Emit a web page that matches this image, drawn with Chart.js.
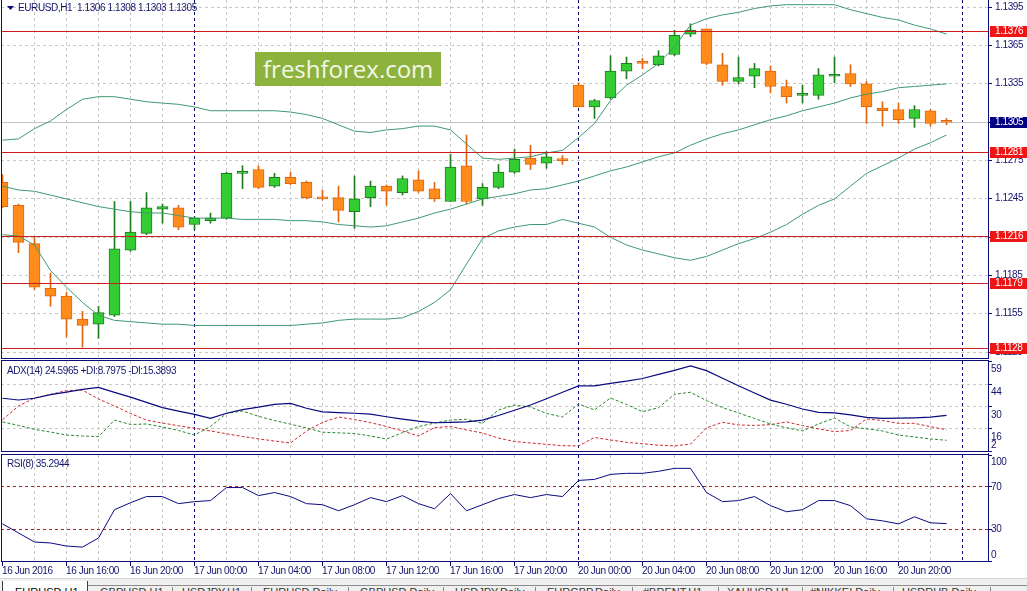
<!DOCTYPE html>
<html>
<head>
<meta charset="utf-8">
<script src="https://cdn.jsdelivr.net/npm/chart.js@4.4.1/dist/chart.umd.min.js"></script>
<style>
  body { margin:0; width:1027px; height:591px; overflow:hidden; position:relative; background:#fff; font-family:'Liberation Sans', Arial, sans-serif; }
  canvas { position:absolute; left:0; }
  #logo { position:absolute; left:255px; top:52px; width:178px; height:34px; padding-left:8px; background:#8db33e; color:#f2f7e8; font:24px 'Open Sans', sans-serif; line-height:34px; white-space:nowrap; }
  #tabs { position:absolute; left:0; top:578px; width:1027px; height:13px; background:#f0f0f0; border-top:1px solid #d4d4d4; overflow:hidden; }
  #tabs .strip { position:absolute; left:87px; right:0; top:6px; border-top:1px solid #8c8c8c; }
  #tabs .active { position:absolute; left:2px; top:2px; width:84px; height:20px; background:#fff; border-left:1px solid #404040; border-right:1px solid #404040; }
  #tabs .sep { position:absolute; top:8px; width:1px; height:10px; background:#8c8c8c; }
  #tabs .lbl { position:absolute; top:7px; font:11px 'Liberation Sans', Arial, sans-serif; line-height:13px; color:#333; white-space:nowrap; }
</style>
</head>
<body>
<canvas id="main" width="1027" height="360" style="top:0"></canvas>
<canvas id="adx" width="1027" height="93" style="top:360px"></canvas>
<canvas id="rsi" width="1027" height="138" style="top:453px"></canvas>
<div id="logo">freshforex.com</div>
<div id="tabs">
  <div class="strip"></div>
  <div class="active"></div>
  <span class="lbl" style="left:15px;color:#000">EURUSD,H1</span>
  <span class="lbl" style="left:100px">GBPUSD,H1</span>
  <span class="lbl" style="left:182px">USDJPY,H1</span>
  <span class="lbl" style="left:263px">EURUSD,Daily</span>
  <span class="lbl" style="left:360px">GBPUSD,Daily</span>
  <span class="lbl" style="left:455px">USDJPY,Daily</span>
  <span class="lbl" style="left:547px">EURGBP,Daily</span>
  <span class="lbl" style="left:643px">#BRENT,H1</span>
  <span class="lbl" style="left:727px">XAUUSD,H1</span>
  <span class="lbl" style="left:810px">#NIKKEI,Daily</span>
  <span class="lbl" style="left:902px">USDRUB,Daily</span>
  <div class="sep" style="left:172px"></div>
  <div class="sep" style="left:251px"></div>
  <div class="sep" style="left:348px"></div>
  <div class="sep" style="left:443px"></div>
  <div class="sep" style="left:535px"></div>
  <div class="sep" style="left:632px"></div>
  <div class="sep" style="left:718px"></div>
  <div class="sep" style="left:802px"></div>
  <div class="sep" style="left:893px"></div>
  <div class="sep" style="left:990px"></div>
</div>
<script>
// EURUSD H1, 16 Jun 12:00 .. 20 Jun 23:00, one value per bar
const timeLabels = ['16 Jun 2016', '16 Jun 16:00', '16 Jun 20:00', '17 Jun 00:00', '17 Jun 04:00', '17 Jun 08:00', '17 Jun 12:00', '17 Jun 16:00', '17 Jun 20:00', '20 Jun 00:00', '20 Jun 04:00', '20 Jun 08:00', '20 Jun 12:00', '20 Jun 16:00', '20 Jun 20:00'];
const labelStep = 4;
const separators = [12, 36, 60]; // day starts

const openP  = [1.1258,1.1240,1.1210,1.1175,1.1169,1.1151,1.1147,1.1154,1.1205,1.1218, 1.1237,1.1238,1.1225,1.1228,1.1230,1.1265,1.1268,1.1255,1.1262,1.1258, 1.1246,1.1246,1.1235,1.1246,1.1255,1.1250,1.1260,1.1253,1.1243,1.1271, 1.1245,1.1254,1.1266,1.1277,1.1273,1.1276,1.1334,1.1317,1.1324,1.1345, 1.1352,1.1350,1.1358,1.1374,1.1378,1.1350,1.1337,1.1341,1.1345,1.1333, 1.1326,1.1326,1.1341,1.1343,1.1335,1.1316,1.1315,1.1308,1.1314,1.1306];
const highP  = [1.1264,1.1241,1.1215,1.1187,1.1172,1.1157,1.1161,1.1243,1.1243,1.1250, 1.1241,1.1240,1.1231,1.1234,1.1266,1.1271,1.1271,1.1265,1.1266,1.1259, 1.1252,1.1255,1.1263,1.1259,1.1256,1.1263,1.1267,1.1258,1.1280,1.1295, 1.1257,1.1272,1.1284,1.1287,1.1282,1.1279,1.1336,1.1323,1.1357,1.1356, 1.1355,1.1361,1.1377,1.1382,1.1378,1.1359,1.1356,1.1351,1.1349,1.1338, 1.1334,1.1347,1.1356,1.1350,1.1337,1.1321,1.1320,1.1318,1.1315,1.1308];
const lowP   = [1.1238,1.1203,1.1174,1.1161,1.1137,1.1129,1.1136,1.1153,1.1204,1.1217, 1.1226,1.1221,1.1221,1.1226,1.1229,1.1253,1.1253,1.1254,1.1256,1.1245, 1.1244,1.1227,1.1222,1.1239,1.1240,1.1248,1.1250,1.1243,1.1243,1.1241, 1.1240,1.1253,1.1265,1.1268,1.1269,1.1272,1.1317,1.1308,1.1323,1.1339, 1.1347,1.1349,1.1357,1.1372,1.1350,1.1334,1.1335,1.1332,1.1328,1.1320, 1.1320,1.1323,1.1336,1.1333,1.1304,1.1302,1.1304,1.1301,1.1302,1.1303];
const closeP = [1.1239,1.1211,1.1176,1.1169,1.1151,1.1146,1.1156,1.1206,1.1219,1.1238, 1.1239,1.1223,1.1230,1.1230,1.1265,1.1266,1.1254,1.1262,1.1257,1.1246, 1.1245,1.1236,1.1245,1.1255,1.1251,1.1261,1.1251,1.1245,1.1270,1.1243, 1.1254,1.1266,1.1276,1.1272,1.1278,1.1275,1.1317,1.1322,1.1345,1.1351, 1.1351,1.1357,1.1373,1.1377,1.1351,1.1337,1.1340,1.1347,1.1333,1.1325, 1.1327,1.1342,1.1342,1.1335,1.1317,1.1314,1.1307,1.1315,1.1304,1.1305];

// Bollinger bands
const bbUpper  = [1.1291,1.1292,1.1300,1.1306,1.1315,1.1323,1.1325,1.1325,1.1323,1.1321, 1.1320,1.1319,1.1317,1.1314,1.1314,1.1314,1.1314,1.1314,1.1313,1.1311, 1.1308,1.1303,1.1298,1.1297,1.1299,1.1300,1.1302,1.1302,1.1299,1.1288, 1.1277,1.1276,1.1277,1.1278,1.1281,1.1283,1.1293,1.1304,1.1322,1.1334, 1.1342,1.1351,1.1364,1.1381,1.1386,1.1389,1.1391,1.1394,1.1396,1.1397, 1.1397,1.1397,1.1397,1.1393,1.1390,1.1387,1.1385,1.1381,1.1378,1.1374];
const bbMiddle = [1.1255,1.1252,1.1251,1.1248,1.1245,1.1242,1.1239,1.1237,1.1235,1.1234, 1.1234,1.1232,1.1230,1.1230,1.1230,1.1229,1.1229,1.1229,1.1228,1.1228, 1.1227,1.1225,1.1224,1.1223,1.1224,1.1227,1.1230,1.1234,1.1237,1.1241, 1.1245,1.1247,1.1249,1.1252,1.1253,1.1256,1.1259,1.1263,1.1267,1.1270, 1.1274,1.1278,1.1281,1.1287,1.1292,1.1296,1.1299,1.1303,1.1307,1.1310, 1.1314,1.1317,1.1320,1.1324,1.1327,1.1329,1.1332,1.1333,1.1334,1.1335];
const bbLower  = [1.1217,1.1216,1.1209,1.1189,1.1176,1.1164,1.1154,1.1150,1.1149,1.1148, 1.1147,1.1147,1.1146,1.1146,1.1146,1.1146,1.1146,1.1146,1.1146,1.1147, 1.1148,1.1150,1.1151,1.1151,1.1151,1.1152,1.1157,1.1164,1.1174,1.1194, 1.1214,1.1220,1.1223,1.1225,1.1225,1.1229,1.1226,1.1223,1.1215,1.1209, 1.1205,1.1202,1.1199,1.1197,1.1200,1.1205,1.1210,1.1214,1.1219,1.1225, 1.1233,1.1240,1.1245,1.1255,1.1265,1.1271,1.1277,1.1284,1.1289,1.1295];

const levels = [1.1376, 1.1281, 1.1216, 1.1179, 1.1128];
const bidPrice = 1.1305;
const priceTicks = [1.1395, 1.1365, 1.1335, 1.1305, 1.1275, 1.1245, 1.1215, 1.1185, 1.1155, 1.1125];

// ADX(14)
const adxMain = [35.4,34.3,35.4,37.7,39.3,41.0,42.3,39.1,36.1,32.8, 29.5,27.3,25.2,22.7,25.9,28.2,29.8,31.5,32.2,29.1, 26.8,26.3,25.9,25.4,23.7,22.2,20.9,19.9,20.1,20.4, 21.6,24.5,27.8,31.1,35.1,39.2,43.2,43.3,44.8,46.2, 47.9,50.5,53.1,55.9,52.9,48.1,43.3,38.7,34.2,31.6, 28.6,26.5,26.1,24.9,23.3,22.7,22.8,23.0,23.4,24.6];
const plusDI  = [20.4,18.2,15.7,14.0,12.1,11.5,11.1,21.6,18.8,19.1, 17.2,15.0,12.1,17.5,25.8,27.3,24.0,21.3,19.0,16.6, 13.9,13.5,13.1,11.5,9.6,13.6,17.5,19.7,21.6,22.1, 19.5,28.0,31.1,29.9,25.8,23.5,31.8,28.0,35.6,31.5, 26.9,29.4,37.9,39.2,33.9,29.5,26.1,22.6,19.1,16.7, 14.7,19.1,22.9,17.2,16.1,14.7,12.1,10.9,9.6,8.8];
const minusDI = [21.8,30.5,35.6,37.8,40.3,40.6,34.9,30.5,25.8,21.6, 19.7,18.0,16.4,14.7,12.9,11.2,9.7,8.3,7.1,14.7, 20.1,23.5,21.9,20.0,17.5,14.7,11.5,16.8,17.6,15.3, 13.4,10.2,8.0,7.1,6.2,5.4,5.2,10.6,9.0,7.5, 6.6,5.7,5.2,6.4,16.6,20.2,18.5,18.2,18.7,20.4, 18.1,16.0,14.3,15.0,22.3,21.3,19.5,19.5,17.4,15.4];
const adxTicks = [59, 44, 30, 16, 2];

// RSI(8)
const rsiValues = [35.0,26.5,17.9,17.0,14.1,13.1,21.7,48.4,55.0,60.8, 60.8,54.1,56.0,57.0,69.3,69.3,61.7,64.6,60.8,54.1, 53.1,47.4,53.1,59.8,56.0,61.7,54.1,49.3,63.6,47.4, 53.1,58.9,62.7,59.8,62.7,60.8,76.0,77.0,81.7,82.7, 82.7,84.6,87.4,87.4,64.6,56.0,57.0,60.8,52.2,46.5, 48.4,57.0,57.0,52.2,39.8,37.9,35.0,41.7,36.0,35.3];
const rsiTicks = [100, 70, 30, 0];
const rsiLevels = [70, 30];

// colours
const navy = '#0c0c78';
const textColor = '#14146c';
const gridColor = '#c8c8c8';
const bandColor = '#3d9a70';
const bullFill = '#33cc33', bullEdge = '#1e7e1e';
const bearFill = '#ff8c1a', bearEdge = '#e2650f';
const levelColor = '#d01c1c', levelBox = '#ee1515';

// x axis: bar k sits at pixel 2.5 + 16k, plot runs from pixel 1 to 988
const xMin = -0.09375, xMax = 61.59375;
const pts = arr => arr.map((v, i) => ({x: i, y: v}));
const xAxis = () => ({type: 'linear', min: xMin, max: xMax, display: false, offset: false});
const snap = p => Math.floor(p) + 0.5;

function line(ctx, x1, y1, x2, y2, color, dash) {
  ctx.save();
  ctx.strokeStyle = color;
  ctx.lineWidth = 1;
  ctx.setLineDash(dash || []);
  ctx.beginPath();
  ctx.moveTo(x1, y1);
  ctx.lineTo(x2, y2);
  ctx.stroke();
  ctx.restore();
}

function text(ctx, s, x, y, color, align) {
  ctx.save();
  ctx.font = '10px "Liberation Sans", Arial, sans-serif';
  if ('letterSpacing' in ctx) ctx.letterSpacing = '-0.4px';
  ctx.fillStyle = color;
  ctx.textAlign = align || 'left';
  ctx.textBaseline = 'middle';
  ctx.fillText(s, x, y);
  ctx.restore();
}

// vertical grid every 2 bars + day separators, shared by all panels
function vGrid(chart) {
  const {ctx, chartArea: a, scales: {x}} = chart;
  for (let k = 2; k <= openP.length; k += 2) {
    if (separators.includes(k)) continue;
    const px = snap(x.getPixelForValue(k));
    if (px < a.right) line(ctx, px, a.top, px, a.bottom, gridColor, [3, 3]);
  }
  separators.forEach(k => {
    const px = snap(x.getPixelForValue(k));
    if (px < a.right) line(ctx, px, a.top, px, a.bottom, navy, [3, 3]);
  });
}

function frame(chart, topRow, bottomRow) {
  const {ctx, chartArea: a} = chart;
  if (topRow !== null) line(ctx, 1, topRow + 0.5, 988, topRow + 0.5, navy);
  line(ctx, 1, bottomRow + 0.5, 988, bottomRow + 0.5, navy);
  line(ctx, 1.5, topRow === null ? 0 : topRow, 1.5, bottomRow + 1, navy);
  line(ctx, 988.5, 0, 988.5, bottomRow + 1, navy);
}

const mainDecor = {
  id: 'mainDecor',
  beforeDatasetsDraw(chart) {
    const {ctx, chartArea: a, scales: {y}} = chart;
    priceTicks.forEach(v => {
      const py = snap(y.getPixelForValue(v));
      if (py > a.top && py < a.bottom) line(ctx, a.left, py, a.right, py, gridColor, [3, 3]);
    });
    vGrid(chart);
    const by = snap(y.getPixelForValue(bidPrice));
    line(ctx, a.left, by, a.right, by, '#c4c4c4');
  },
  afterDatasetsDraw(chart) {
    const {ctx, chartArea: a, scales: {y}} = chart;
    levels.forEach(v => {
      const py = snap(y.getPixelForValue(v));
      line(ctx, a.left, py, a.right, py, levelColor);
    });
  },
  afterDraw(chart) {
    const {ctx, scales: {y}} = chart;
    frame(chart, null, 358);
    priceTicks.forEach(v => {
      const py = snap(y.getPixelForValue(v));
      line(ctx, 988, py, 992, py, navy);
      text(ctx, v.toFixed(4), 995, py, textColor);
    });
    const box = (v, bg) => {
      const py = Math.floor(y.getPixelForValue(v));
      ctx.fillStyle = bg;
      ctx.fillRect(990, py - 5, 37, 11);
      text(ctx, v.toFixed(4), 995, py + 0.5, '#fff');
    };
    levels.forEach(v => box(v, levelBox));
    box(bidPrice, '#000080');
    // title
    const last = openP.length - 1;
    ctx.fillStyle = navy;
    ctx.beginPath();
    ctx.moveTo(7, 6); ctx.lineTo(14, 6); ctx.lineTo(10.5, 10); ctx.closePath();
    ctx.fill();
    text(ctx, 'EURUSD,H1  ' + [openP[last], highP[last], lowP[last], closeP[last]].map(v => v.toFixed(4)).join(' '), 18, 8, textColor);
  }
};

const bull = closeP.map((c, i) => c > openP[i]);

new Chart(document.getElementById('main'), {
  type: 'bar',
  data: {
    datasets: [
      {type: 'line', data: pts(bbUpper), borderColor: bandColor, borderWidth: 1, pointRadius: 0, order: 1},
      {type: 'line', data: pts(bbMiddle), borderColor: bandColor, borderWidth: 1, pointRadius: 0, order: 1},
      {type: 'line', data: pts(bbLower), borderColor: bandColor, borderWidth: 1, pointRadius: 0, order: 1},
      {
        type: 'bar',
        data: openP.map((o, i) => ({x: i, y: [o, closeP[i]]})),
        backgroundColor: bull.map(b => b ? bullFill : bearFill),
        borderColor: bull.map(b => b ? bullEdge : bearEdge),
        borderWidth: 1, borderSkipped: false, barThickness: 11, minBarLength: 2, grouped: false, order: 2
      },
      {
        type: 'bar',
        data: lowP.map((l, i) => ({x: i, y: [l, highP[i]]})),
        backgroundColor: bull.map(b => b ? bullEdge : bearEdge),
        borderWidth: 0, barThickness: 1, grouped: false, order: 3
      }
    ]
  },
  options: {
    responsive: false, animation: false, events: [],
    layout: {padding: {left: 1, right: 39, top: 0, bottom: 2}},
    scales: {
      x: xAxis(),
      y: {type: 'linear', min: 1.112056, max: 1.140064, display: false, beginAtZero: false}
    },
    plugins: {legend: {display: false}, tooltip: {enabled: false}}
  },
  plugins: [mainDecor]
});

// ADX panel
const adxDecor = {
  id: 'adxDecor',
  beforeDatasetsDraw(chart) {
    const {ctx, chartArea: a, scales: {y}} = chart;
    adxTicks.slice(1, -1).forEach(v => {
      const py = snap(y.getPixelForValue(v));
      line(ctx, a.left, py, a.right, py, gridColor, [3, 3]);
    });
    vGrid(chart);
  },
  afterDraw(chart) {
    const {ctx, chartArea: a, scales: {y}} = chart;
    frame(chart, 0, 91);
    adxTicks.forEach(v => {
      const py = y.getPixelForValue(v);
      line(ctx, 988, snap(py), 992, snap(py), navy);
      text(ctx, String(v), 991, Math.min(py + 8, a.bottom - 6), textColor);
    });
    text(ctx, 'ADX(14) 24.5965 +DI:8.7975 -DI:15.3893', 7, 11, textColor);
  }
};

new Chart(document.getElementById('adx'), {
  type: 'line',
  data: {
    datasets: [
      {data: pts(adxMain), borderColor: '#0a0a80', borderWidth: 1.2, pointRadius: 0},
      {data: pts(plusDI), borderColor: '#27872a', borderWidth: 1, borderDash: [3, 2], pointRadius: 0},
      {data: pts(minusDI), borderColor: '#cc2b2b', borderWidth: 1, borderDash: [3, 2], pointRadius: 0}
    ]
  },
  options: {
    responsive: false, animation: false, events: [],
    layout: {padding: {left: 1, right: 39, top: 1, bottom: 2}},
    scales: {x: xAxis(), y: {type: 'linear', min: 2, max: 59, display: false}},
    plugins: {legend: {display: false}, tooltip: {enabled: false}}
  },
  plugins: [adxDecor]
});

// RSI panel + time axis
const rsiDecor = {
  id: 'rsiDecor',
  beforeDatasetsDraw(chart) {
    const {ctx, chartArea: a, scales: {y}} = chart;
    vGrid(chart);
    rsiLevels.forEach(v => {
      const py = snap(y.getPixelForValue(v));
      line(ctx, a.left, py, a.right, py, '#b41e1e', [3, 3]);
    });
  },
  afterDraw(chart) {
    const {ctx, chartArea: a, scales: {x, y}} = chart;
    frame(chart, 1, 108);
    rsiTicks.forEach(v => {
      const py = y.getPixelForValue(v);
      line(ctx, 988, snap(py), 992, snap(py), navy);
      text(ctx, String(v), 991, Math.max(a.top + 7, Math.min(py, a.bottom - 6)), textColor);
    });
    text(ctx, 'RSI(8) 35.2944', 7, 11, textColor);
    timeLabels.forEach((s, i) => {
      const px = Math.floor(x.getPixelForValue(i * labelStep));
      line(ctx, px + 0.5, 109, px + 0.5, 113, navy);
      text(ctx, s, px, 118, textColor);
    });
  }
};

new Chart(document.getElementById('rsi'), {
  type: 'line',
  data: {
    datasets: [
      {data: pts(rsiValues), borderColor: '#0a0a80', borderWidth: 1, pointRadius: 0}
    ]
  },
  options: {
    responsive: false, animation: false, events: [],
    layout: {padding: {left: 1, right: 39, top: 2, bottom: 30}},
    scales: {x: xAxis(), y: {type: 'linear', min: 0, max: 100, display: false}},
    plugins: {legend: {display: false}, tooltip: {enabled: false}}
  },
  plugins: [rsiDecor]
});
</script>
</body>
</html>
